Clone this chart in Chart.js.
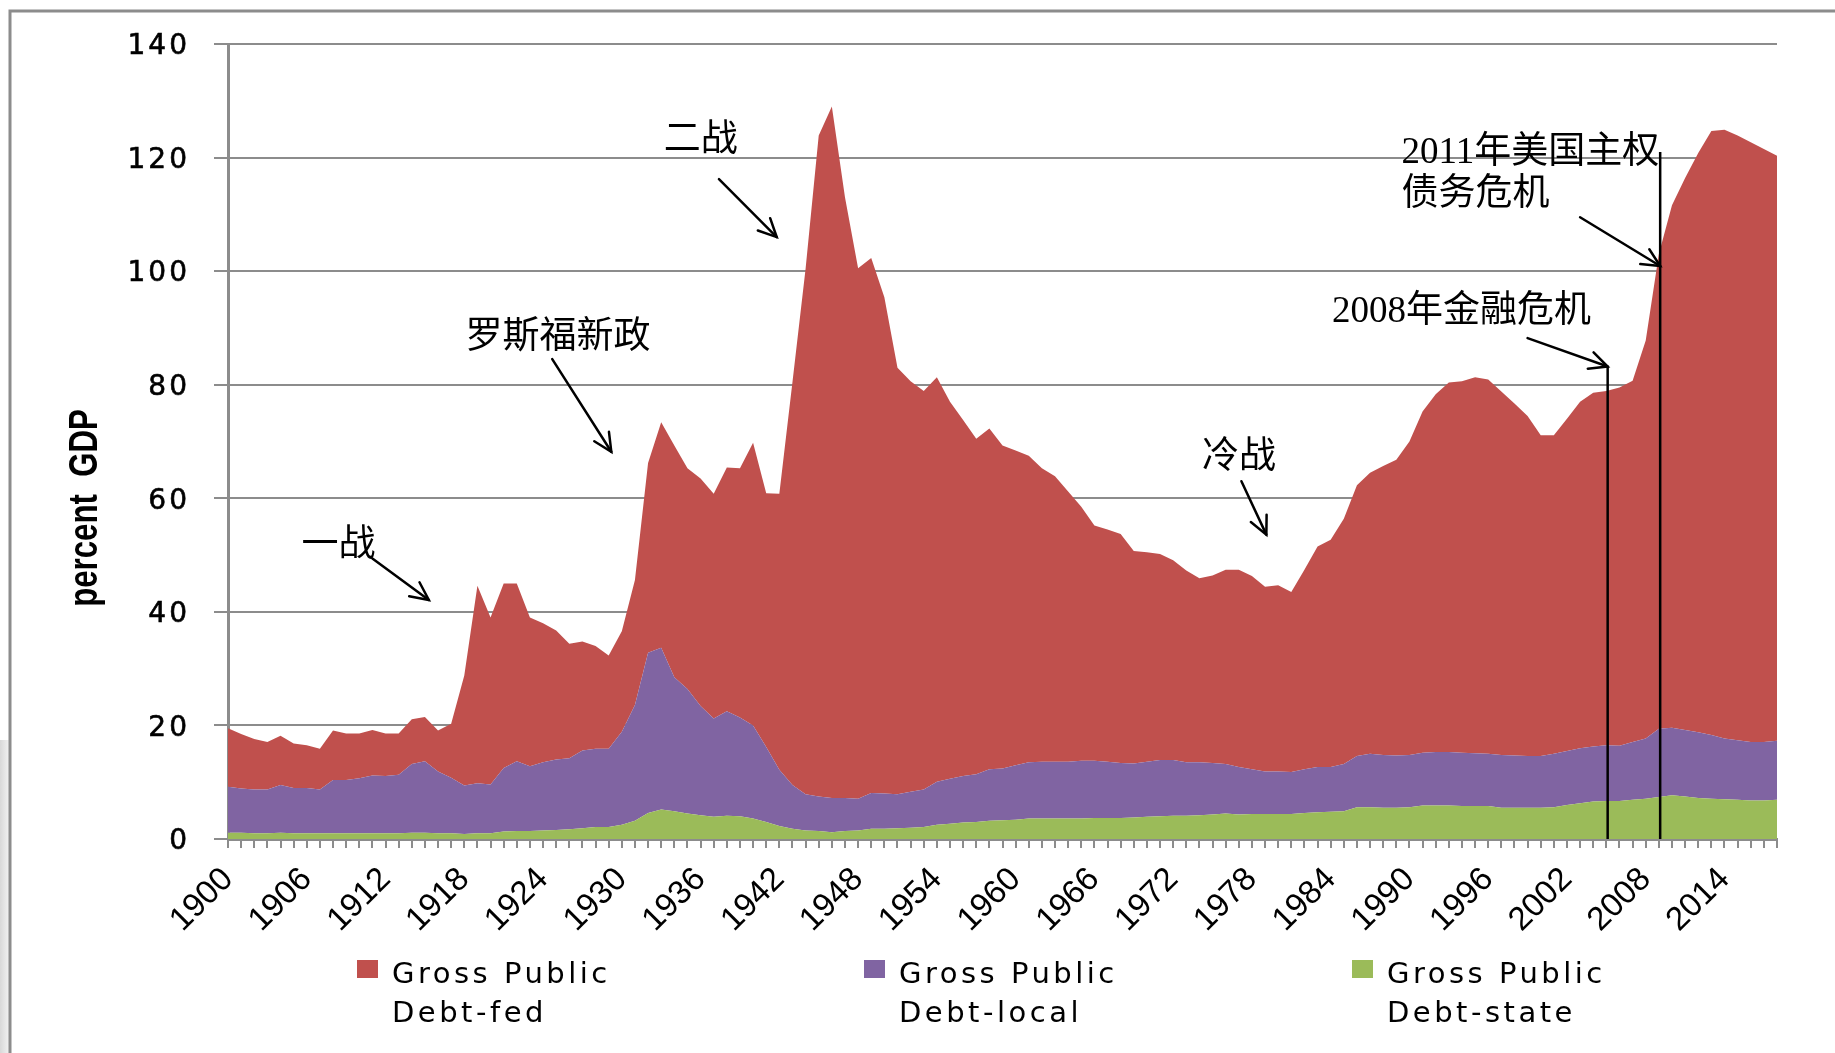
<!DOCTYPE html>
<html><head><meta charset="utf-8">
<script src="https://cdn.jsdelivr.net/npm/chart.js@4.4.1/dist/chart.umd.min.js"></script>
<style>html,body{margin:0;padding:0;background:#fff;overflow:hidden}</style>
</head><body>
<canvas id="c" width="1835" height="1053"></canvas>
<script>
// ---- data ----
const years = Array.from({length: 119}, (_, i) => String(1900 + i));
const xTickLabels = ['1900','1906','1912','1918','1924','1930','1936','1942','1948','1954','1960','1966','1972','1978','1984','1990','1996','2002','2008','2014'];
const yTicks = [0, 20, 40, 60, 80, 100, 120, 140];
const seriesNames = ['Gross Public Debt-fed', 'Gross Public Debt-local', 'Gross Public Debt-state'];
const debtFed = [
 10.3, 9.6, 8.9, 8.4, 8.7, 7.8, 7.5, 7.2, 8.7, 8.2,
 7.9, 8.0, 7.5, 7.3, 7.9, 7.8, 7.2, 9.5, 19.4, 34.8,
 29.4, 32.5, 31.3, 26.2, 24.5, 22.7, 20.2, 19.2, 18.1, 16.4,
 17.7, 22.0, 33.4, 39.7, 40.8, 38.9, 40.1, 39.6, 42.9, 43.9,
 49.8, 44.7, 48.6, 71.0, 92.5, 116.4, 121.8, 105.8, 93.4, 94.2,
 87.4, 75.1, 72.3, 70.2, 71.2, 66.4, 62.7, 59.1, 60.0, 56.9,
 55.4, 54.0, 51.7, 50.3, 47.6, 44.7, 41.4, 40.9, 40.3, 37.4,
 36.9, 36.3, 35.2, 33.8, 32.4, 33.0, 34.2, 34.7, 34.0, 32.5,
 32.8, 31.7, 35.1, 38.8, 40.0, 43.2, 47.7, 49.5, 50.9, 52.1,
 55.2, 60.1, 63.0, 65.1, 65.4, 66.2, 65.9, 64.0, 62.0, 59.9,
 56.5, 56.1, 58.5, 61.0, 62.3, 62.4, 63.1, 63.6, 70.1, 83.6,
 92.0, 97.2, 102.0, 106.4, 107.2, 106.5, 105.6, 104.4, 103.0];
const debtLocal = [
 8.1, 7.8, 7.7, 7.7, 8.4, 8.0, 8.0, 7.7, 9.4, 9.4,
 9.7, 10.2, 10.1, 10.3, 12.1, 12.6, 10.9, 9.8, 8.5, 8.8,
 8.6, 11.2, 12.3, 11.4, 12.0, 12.4, 12.5, 13.7, 13.8, 13.8,
 16.4, 20.4, 28.2, 28.5, 23.6, 21.9, 19.2, 17.3, 18.4, 17.4,
 16.4, 13.2, 9.9, 7.7, 6.4, 6.1, 6.0, 5.8, 5.6, 6.3,
 6.2, 6.0, 6.3, 6.6, 7.6, 7.9, 8.2, 8.4, 9.1, 9.1,
 9.6, 9.9, 10.0, 10.0, 10.0, 10.2, 10.1, 9.9, 9.7, 9.5,
 9.7, 9.9, 9.8, 9.4, 9.3, 9.1, 8.7, 8.4, 7.9, 7.5,
 7.5, 7.4, 7.7, 8.0, 7.9, 8.3, 9.0, 9.4, 9.3, 9.2,
 9.2, 9.3, 9.4, 9.4, 9.4, 9.3, 9.2, 9.3, 9.2, 9.1,
 9.1, 9.4, 9.5, 9.7, 9.7, 9.8, 9.7, 10.2, 10.6, 12.0,
 11.9, 11.7, 11.6, 11.2, 10.7, 10.5, 10.3, 10.3, 10.4];
const debtState = [
 1.1, 1.1, 1.0, 1.0, 1.1, 1.0, 1.0, 1.0, 1.0, 1.0,
 1.0, 1.0, 1.0, 1.0, 1.1, 1.1, 1.0, 1.0, 0.9, 1.0,
 1.0, 1.3, 1.4, 1.4, 1.5, 1.6, 1.7, 1.9, 2.1, 2.1,
 2.5, 3.2, 4.6, 5.2, 4.9, 4.5, 4.2, 3.9, 4.1, 4.0,
 3.6, 3.0, 2.3, 1.8, 1.5, 1.4, 1.2, 1.4, 1.5, 1.8,
 1.8, 1.9, 2.0, 2.1, 2.5, 2.7, 2.9, 3.0, 3.2, 3.3,
 3.4, 3.6, 3.6, 3.6, 3.6, 3.6, 3.7, 3.7, 3.7, 3.8,
 3.9, 4.0, 4.1, 4.1, 4.2, 4.3, 4.5, 4.3, 4.4, 4.4,
 4.4, 4.4, 4.6, 4.7, 4.8, 4.9, 5.6, 5.6, 5.5, 5.5,
 5.6, 5.9, 5.9, 5.9, 5.8, 5.8, 5.8, 5.5, 5.5, 5.5,
 5.5, 5.6, 6.0, 6.3, 6.6, 6.7, 6.7, 6.9, 7.1, 7.4,
 7.7, 7.5, 7.2, 7.1, 7.0, 6.9, 6.8, 6.8, 6.9];
const yTitle = 'percent  GDP';
// annotations: text lines, anchor (category index, value), arrow (from idx,val -> to idx,val)
const notes = [
 {lines:['一战'], at:[5.6, 52.5], arrow:[11.0, 49.4, 15.3, 42.1]},
 {lines:['罗斯福新政'], at:[18.1, 89.0], arrow:[24.7, 84.5, 29.2, 68.2]},
 {lines:['二战'], at:[33.2, 123.8], arrow:[37.4, 116.2, 41.8, 106.0]},
 {lines:['冷战'], at:[74.2, 67.9], arrow:[77.2, 63.0, 79.1, 53.6]},
 {lines:['2008年金融危机'], at:[84.1, 93.6], arrow:[99.0, 88.2, 105.1, 83.2], drop:[105.1, 83.2]},
 {lines:['2011年美国主权', '债务危机'], at:[89.4, 121.7], arrow:[103.0, 109.5, 109.1, 100.9], drop:[109.1, 121.0]}
];
// ---- styles ----
const COLORS = {fed:'#C0504D', local:'#8064A2', state:'#9BBB59'};
const GRID = '#8c8c8c';

const decor = {
  id: 'decor',
  afterLayout(chart) {
    // wider tracking and a small downward nudge for the y-axis tick labels
    const ys = chart.scales.y;
    if (ys && !ys._tracked) {
      const orig = ys.drawLabels;
      ys.drawLabels = function (area) {
        const c = this.ctx;
        c.save();
        try { c.letterSpacing = '3px'; } catch (e) {}
        c.translate(0, 3);
        orig.call(this, area);
        c.restore();
      };
      ys._tracked = true;
    }
  },
  beforeDraw(chart) {
    const c = chart.ctx;
    c.save();
    c.fillStyle = '#fff'; c.fillRect(0, 0, chart.width, chart.height);
    const g = c.createLinearGradient(0, 0, 10, 0);
    g.addColorStop(0, '#d8d8d8'); g.addColorStop(1, '#f4f4f4');
    c.fillStyle = g; c.fillRect(0, 740, 9, 313);
    c.strokeStyle = GRID; c.lineWidth = 3;
    c.beginPath(); c.moveTo(10, chart.height); c.lineTo(10, 11); c.lineTo(chart.width, 11); c.stroke();
    c.restore();
  },
  afterDraw(chart) {
    const c = chart.ctx, xs = chart.scales.x, ys = chart.scales.y;
    const px = i => xs.getPixelForValue(i), py = v => ys.getPixelForValue(v);
    c.save();
    // y title
    c.save();
    c.translate(86, 508); c.rotate(-Math.PI / 2); c.scale(0.78, 1);
    c.font = "bold 40px 'Liberation Sans Narrow', 'Liberation Sans', sans-serif";
    c.fillStyle = '#000'; c.textAlign = 'center'; c.textBaseline = 'middle';
    c.fillText(yTitle, 0, 0);
    c.restore();
    // annotations
    c.strokeStyle = '#000'; c.fillStyle = '#000'; c.lineWidth = 2.5; c.lineCap = 'round';
    c.font = "37px 'Liberation Serif', 'Noto Sans CJK SC', serif";
    c.textAlign = 'left'; c.textBaseline = 'middle';
    notes.forEach(n => {
      n.lines.forEach((t, k) => c.fillText(t, px(n.at[0]), py(n.at[1]) + 5 + k * 42));
      const [a, b, d, e] = n.arrow;
      const x1 = px(a), y1 = py(b), x2 = px(d), y2 = py(e);
      c.beginPath(); c.moveTo(x1, y1); c.lineTo(x2, y2); c.stroke();
      const ang = Math.atan2(y2 - y1, x2 - x1), L = 20, sp = 0.45;
      c.beginPath();
      c.moveTo(x2 - L * Math.cos(ang - sp), y2 - L * Math.sin(ang - sp));
      c.lineTo(x2, y2);
      c.lineTo(x2 - L * Math.cos(ang + sp), y2 - L * Math.sin(ang + sp));
      c.stroke();
      if (n.drop) {
        c.beginPath(); c.lineCap = 'butt';
        c.moveTo(px(n.drop[0]), py(n.drop[1])); c.lineTo(px(n.drop[0]), py(0)); c.stroke();
        c.lineCap = 'round';
      }
    });
    // legend
    const items = [
      {name: seriesNames[0], color: COLORS.fed, x: 357},
      {name: seriesNames[1], color: COLORS.local, x: 864},
      {name: seriesNames[2], color: COLORS.state, x: 1352}
    ];
    c.font = "29px 'DejaVu Sans', sans-serif";
    try { c.letterSpacing = '3.5px'; } catch (e) {}
    items.forEach(it => {
      c.fillStyle = it.color; c.fillRect(it.x, 960, 21, 18);
      c.fillStyle = '#000';
      const cut = it.name.indexOf(' Debt');
      c.fillText(it.name.slice(0, cut), it.x + 35, 975);
      c.fillText(it.name.slice(cut + 1), it.x + 35, 1014);
    });
    try { c.letterSpacing = '0px'; } catch (e) {}
    c.restore();
  }
};

new Chart(document.getElementById('c').getContext('2d'), {
  type: 'line',
  data: {
    labels: years,
    datasets: [
      {label: seriesNames[2], data: debtState, backgroundColor: COLORS.state, fill: 'origin'},
      {label: seriesNames[1], data: debtLocal, backgroundColor: COLORS.local, fill: '-1'},
      {label: seriesNames[0], data: debtFed, backgroundColor: COLORS.fed, fill: '-1'}
    ]
  },
  options: {
    responsive: false, animation: false, devicePixelRatio: 1,
    layout: {padding: {left: 0, top: 44, right: 58, bottom: 0}},
    elements: {line: {tension: 0, borderWidth: 0}, point: {radius: 0, hoverRadius: 0}},
    plugins: {legend: {display: false}, tooltip: {enabled: false}, title: {display: false}},
    scales: {
      x: {
        type: 'category', offset: false,
        grid: {display: true, drawOnChartArea: false, drawTicks: true, tickLength: 9, color: GRID, lineWidth: 2},
        border: {display: true, color: GRID, width: 3},
        ticks: {
          autoSkip: false, maxRotation: 45, minRotation: 45, padding: 12, color: '#000',
          font: {family: "'Liberation Sans', sans-serif", size: 33},
          callback: function (v) { const l = this.getLabelForValue(v); return xTickLabels.includes(l) ? l : ''; }
        },
        afterFit: s => { s.height = 214; }
      },
      y: {
        stacked: true, min: 0, max: 140,
        grid: {color: GRID, lineWidth: 2, tickLength: 14, drawTicks: true},
        border: {display: true, color: GRID, width: 3},
        ticks: {
          stepSize: 20, padding: 24, color: '#000',
          textStrokeColor: '#000', textStrokeWidth: 0.6,
          font: {family: "'DejaVu Sans', sans-serif", size: 28},
          callback: v => yTicks.includes(v) ? String(v) : ''
        },
        afterFit: s => { s.width = 228; }
      }
    }
  },
  plugins: [decor]
});
</script>
</body></html>
